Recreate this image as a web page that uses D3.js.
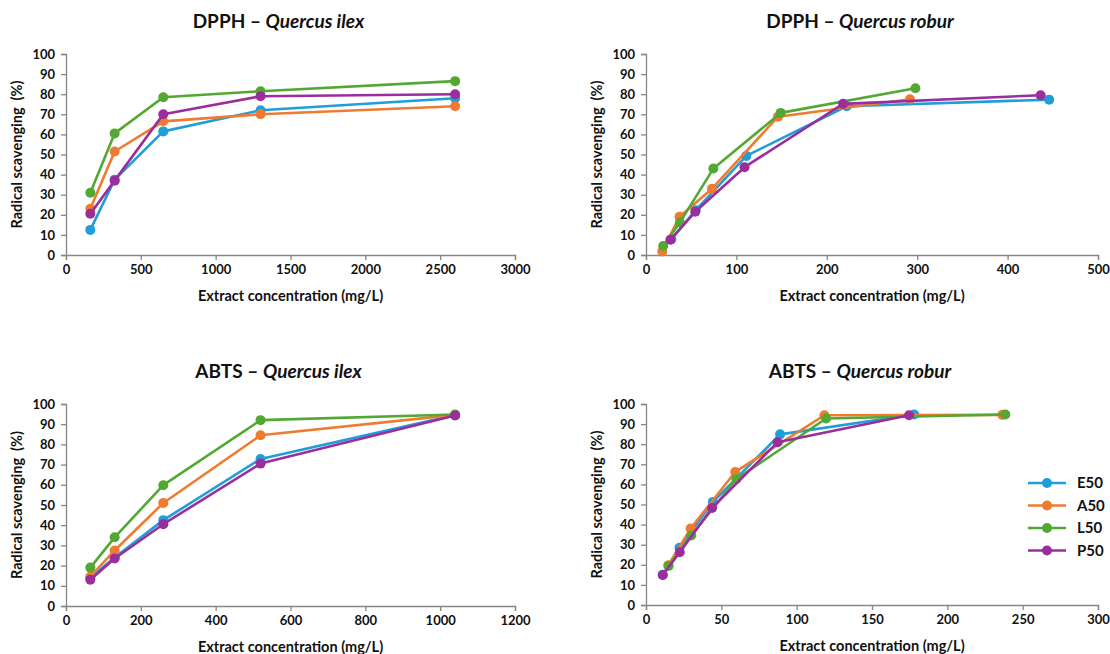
<!DOCTYPE html>
<html>
<head>
<meta charset="utf-8">
<script src="https://cdn.jsdelivr.net/npm/d3@7"></script>
<style>
  body { margin: 0; background: #fff; }
  svg { display: block; font-family: Lato, "Liberation Sans", sans-serif; }
</style>
</head>
<body>
<svg id="chart" width="1110" height="654"></svg>
<script>
// ---- Data ----
const seriesNames = ["E50", "A50", "L50", "P50"];
const seriesColors = ["#1f9ed9", "#ef7b32", "#52a832", "#9a2e9c"];

// DPPH – Quercus ilex
const dpphIlexX = [162.5, 325, 650, 1300, 2600];
const dpphIlexE50 = [12.5, 37.5, 61.5, 72, 78];
const dpphIlexA50 = [23, 51.5, 66.5, 70, 74];
const dpphIlexL50 = [31, 60.5, 78.5, 81.5, 86.5];
const dpphIlexP50 = [20.5, 37, 70, 79, 80];

// DPPH – Quercus robur
const dpphRoburE50x = [28, 55, 111, 222, 446];
const dpphRoburE50 = [7.8, 22.3, 49.3, 74, 77.3];
const dpphRoburA50x = [18, 37, 73, 146, 292];
const dpphRoburA50 = [1.8, 19, 33, 68.8, 77.5];
const dpphRoburL50x = [19, 37.5, 74.5, 149, 298];
const dpphRoburL50 = [4.5, 16.2, 43, 70.7, 83];
const dpphRoburP50x = [27, 54.5, 109, 218, 436.5];
const dpphRoburP50 = [7.6, 21.5, 43.7, 75.2, 79.5];

// ABTS – Quercus ilex
const abtsIlexX = [65, 130, 260, 520, 1040];
const abtsIlexE50 = [14, 24, 42.5, 72.8, 94.5];
const abtsIlexA50 = [14.5, 27.5, 51, 84.5, 94.6];
const abtsIlexL50 = [19, 34, 59.8, 92, 94.8];
const abtsIlexP50 = [13, 23.5, 40.5, 70.5, 94.3];

// ABTS – Quercus robur
const abtsRoburE50x = [11.1, 22.2, 44.4, 89, 178];
const abtsRoburE50 = [15, 28.5, 51.3, 84.9, 94.8];
const abtsRoburA50x = [14.8, 29.6, 59.2, 118.4, 236.5];
const abtsRoburA50 = [19.8, 38, 66.2, 94.4, 94.6];
const abtsRoburL50x = [15, 30, 60, 119.5, 238.5];
const abtsRoburL50 = [19.4, 34.6, 62.7, 92.8, 94.8];
const abtsRoburP50x = [11.1, 22.4, 43.9, 87.4, 174.6];
const abtsRoburP50 = [14.9, 26.2, 48.3, 81, 94.4];

const yTicks = [0, 10, 20, 30, 40, 50, 60, 70, 80, 90, 100];
const xTicksDpphIlex = [0, 500, 1000, 1500, 2000, 2500, 3000];
const xTicksDpphRobur = [0, 100, 200, 300, 400, 500];
const xTicksAbtsIlex = [0, 200, 400, 600, 800, 1000, 1200];
const xTicksAbtsRobur = [0, 50, 100, 150, 200, 250, 300];

const zip = (xs, ys) => xs.map((x, i) => [x, ys[i]]);

const panels = [
  { titleA: "DPPH – ", titleB: "Quercus ilex", x0: 66, x1: 515, y0: 255, y1: 54, xMax: 3000, xTicks: xTicksDpphIlex,
    series: [zip(dpphIlexX, dpphIlexE50), zip(dpphIlexX, dpphIlexA50), zip(dpphIlexX, dpphIlexL50), zip(dpphIlexX, dpphIlexP50)] },
  { titleA: "DPPH – ", titleB: "Quercus robur", x0: 646, x1: 1098, y0: 255, y1: 54, xMax: 500, xTicks: xTicksDpphRobur,
    series: [zip(dpphRoburE50x, dpphRoburE50), zip(dpphRoburA50x, dpphRoburA50), zip(dpphRoburL50x, dpphRoburL50), zip(dpphRoburP50x, dpphRoburP50)] },
  { titleA: "ABTS – ", titleB: "Quercus ilex", x0: 66, x1: 515, y0: 606, y1: 404, xMax: 1200, xTicks: xTicksAbtsIlex,
    series: [zip(abtsIlexX, abtsIlexE50), zip(abtsIlexX, abtsIlexA50), zip(abtsIlexX, abtsIlexL50), zip(abtsIlexX, abtsIlexP50)] },
  { titleA: "ABTS – ", titleB: "Quercus robur", x0: 646, x1: 1098, y0: 605, y1: 404, xMax: 300, xTicks: xTicksAbtsRobur,
    series: [zip(abtsRoburE50x, abtsRoburE50), zip(abtsRoburA50x, abtsRoburA50), zip(abtsRoburL50x, abtsRoburL50), zip(abtsRoburP50x, abtsRoburP50)],
    legend: true }
];

const svg = d3.select("#chart");
const axisColor = "#868686";
const textColor = "#111";

panels.forEach(p => {
  const g = svg.append("g");
  const x = d3.scaleLinear().domain([0, p.xMax]).range([p.x0, p.x1]);
  const y = d3.scaleLinear().domain([0, 100]).range([p.y0, p.y1]);

  // Y axis
  const ya = g.append("g").attr("transform", `translate(${p.x0},0)`)
    .call(d3.axisLeft(y).tickValues(yTicks).tickFormat(d3.format("d")).tickSize(5).tickPadding(6));
  // X axis
  const xa = g.append("g").attr("transform", `translate(0,${p.y0})`)
    .call(d3.axisBottom(x).tickValues(p.xTicks).tickFormat(d3.format("d")).tickSize(5).tickPadding(5));
  [ya, xa].forEach(a => {
    a.selectAll("path").attr("stroke", axisColor).attr("stroke-width", 1.3);
    a.selectAll("line").attr("stroke", axisColor).attr("stroke-width", 1.3);
    a.selectAll("text").attr("fill", textColor).style("font-size", "13px").style("font-weight", "700")
      .style("font-family", "Lato, sans-serif");
  });

  // Titles
  const cx = (p.x0 + p.x1) / 2 - 12;
  const t = g.append("text").attr("x", cx).attr("y", p.y1 - 26)
    .attr("text-anchor", "middle").attr("fill", textColor)
    .style("font-size", "19px").style("font-weight", "700");
  t.append("tspan").text(p.titleA);
  t.append("tspan").style("font-style", "italic").text(p.titleB);

  g.append("text").attr("x", (p.x0 + p.x1) / 2).attr("y", p.y0 + 46)
    .attr("text-anchor", "middle").attr("fill", textColor)
    .style("font-size", "14.5px").style("font-weight", "700")
    .text("Extract concentration (mg/L)");

  g.append("text")
    .attr("transform", `translate(${p.x0 - 44},${(p.y0 + p.y1) / 2}) rotate(-90)`)
    .attr("text-anchor", "middle").attr("fill", textColor)
    .style("font-size", "14.5px").style("font-weight", "700")
    .attr("xml:space", "preserve")
    .text("Radical scavenging  (%)");

  const line = d3.line().x(d => x(d[0])).y(d => y(d[1]));
  p.series.forEach((s, i) => {
    const sg = g.append("g");
    sg.append("path").datum(s).attr("d", line).attr("fill", "none")
      .attr("stroke", seriesColors[i]).attr("stroke-width", 2.6).attr("stroke-linejoin", "round");
    sg.selectAll("circle").data(s).join("circle")
      .attr("cx", d => x(d[0])).attr("cy", d => y(d[1])).attr("r", 5)
      .attr("fill", seriesColors[i]);
  });

  if (p.legend) {
    const lg = g.append("g");
    seriesNames.forEach((name, i) => {
      const yy = 483 + i * 22.5;
      lg.append("line").attr("x1", 1028).attr("x2", 1066).attr("y1", yy).attr("y2", yy)
        .attr("stroke", seriesColors[i]).attr("stroke-width", 2.6);
      lg.append("circle").attr("cx", 1047).attr("cy", yy).attr("r", 5).attr("fill", seriesColors[i]);
      lg.append("text").attr("x", 1077).attr("y", yy).attr("dy", "0.36em")
        .attr("fill", textColor).style("font-size", "15px").style("font-weight", "700").text(name);
    });
  }
});
</script>
</body>
</html>
